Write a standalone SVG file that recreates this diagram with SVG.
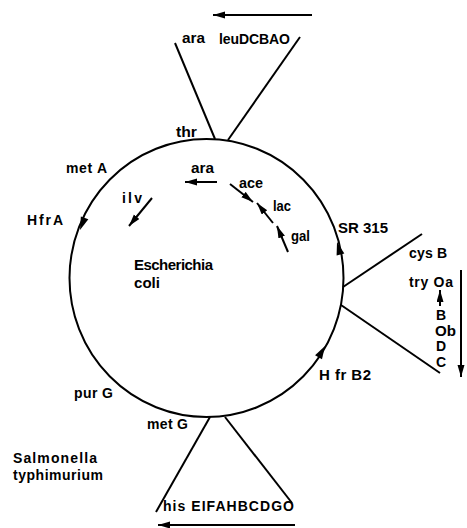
<svg xmlns="http://www.w3.org/2000/svg" width="467" height="528" viewBox="0 0 467 528">
<style>
  text { font-family: "Liberation Sans", Arial, sans-serif; font-weight: bold; font-size: 14px; fill: #000; }
  .big { font-size: 15px; }
  .ln { stroke: #000; stroke-width: 2; fill: none; }
  .ar { stroke: #000; stroke-width: 2; fill: none; marker-end: url(#ah); }
</style>
<defs>
  <marker id="ah" markerUnits="userSpaceOnUse" markerWidth="13" markerHeight="8" refX="12" refY="3.5" orient="auto">
    <path d="M0,0 L12,3.5 L0,7 Z" fill="#000"/>
  </marker>
  <path id="cah" d="M0,0 L-13,-4 L-13,4 Z" fill="#000"/>
</defs>
<g id="chromosome">
  <ellipse cx="206.5" cy="278" rx="137" ry="139" class="ln"/>
  <use href="#cah" transform="translate(80,230) rotate(110.8)"/>
  <use href="#cah" transform="translate(337,242) rotate(254.6)"/>
  <use href="#cah" transform="translate(325,346) rotate(-60.1)"/>
</g>
<g id="connectors">
  <line class="ln" x1="175" y1="43" x2="215" y2="139"/>
  <line class="ln" x1="300" y1="37" x2="228" y2="140"/>
  <line class="ln" x1="343" y1="287" x2="422" y2="234"/>
  <line class="ln" x1="341" y1="305" x2="440" y2="373"/>
  <line class="ln" x1="210" y1="417" x2="156" y2="512"/>
  <line class="ln" x1="225" y1="417" x2="292" y2="503"/>
  <line class="ar" x1="312" y1="15" x2="213" y2="15"/>
  <line class="ar" x1="295" y1="525" x2="158" y2="525"/>
  <line class="ar" x1="152" y1="198" x2="129" y2="226"/>
  <line class="ar" x1="217" y1="182" x2="185" y2="182"/>
  <line class="ar" x1="230" y1="184" x2="253" y2="202"/>
  <line class="ar" x1="273" y1="223" x2="257" y2="203"/>
  <line class="ar" x1="288" y1="252" x2="277" y2="226"/>
  <line class="ar" x1="440" y1="306" x2="440" y2="290"/>
  <line class="ar" x1="461" y1="270" x2="461" y2="377"/>
</g>
<g id="labels">
  <text x="182" y="43" textLength="23" lengthAdjust="spacingAndGlyphs">ara</text>
  <text x="219" y="44" textLength="71" lengthAdjust="spacing">leuDCBAO</text>
  <text x="176" y="137" textLength="21" lengthAdjust="spacingAndGlyphs">thr</text>
  <text x="66" y="173" textLength="41" lengthAdjust="spacing">met A</text>
  <text x="27" y="225" textLength="36" lengthAdjust="spacing">HfrA</text>
  <text x="122" y="203" textLength="20" lengthAdjust="spacing">ilv</text>
  <text x="191" y="173" textLength="23" lengthAdjust="spacingAndGlyphs">ara</text>
  <text x="239" y="188" textLength="24" lengthAdjust="spacingAndGlyphs">ace</text>
  <text x="273" y="211" textLength="18" lengthAdjust="spacingAndGlyphs">lac</text>
  <text x="291" y="241" textLength="19" lengthAdjust="spacingAndGlyphs">gal</text>
  <text class="big" x="134" y="270" textLength="79" lengthAdjust="spacing">Escherichia</text>
  <text class="big" x="134" y="288" textLength="26" lengthAdjust="spacingAndGlyphs">coli</text>
  <text class="big" x="338" y="233" textLength="50" lengthAdjust="spacing">SR 315</text>
  <text x="409" y="258" textLength="38" lengthAdjust="spacing">cys B</text>
  <text x="409" y="287" textLength="44" lengthAdjust="spacing">try Oa</text>
  <text x="436" y="320">B</text>
  <text x="435" y="336" textLength="21" lengthAdjust="spacingAndGlyphs">Ob</text>
  <text x="436" y="351">D</text>
  <text x="436" y="367">C</text>
  <text class="big" x="319" y="380" textLength="52" lengthAdjust="spacing">H fr B2</text>
  <text x="74" y="398" textLength="39" lengthAdjust="spacing">pur G</text>
  <text x="147" y="429" textLength="41" lengthAdjust="spacing">met G</text>
  <text x="13" y="463" textLength="84" lengthAdjust="spacing">Salmonella</text>
  <text x="13" y="480" textLength="90" lengthAdjust="spacing">typhimurium</text>
  <text x="163" y="511" textLength="131" lengthAdjust="spacing">his EIFAHBCDGO</text>
</g>
</svg>
